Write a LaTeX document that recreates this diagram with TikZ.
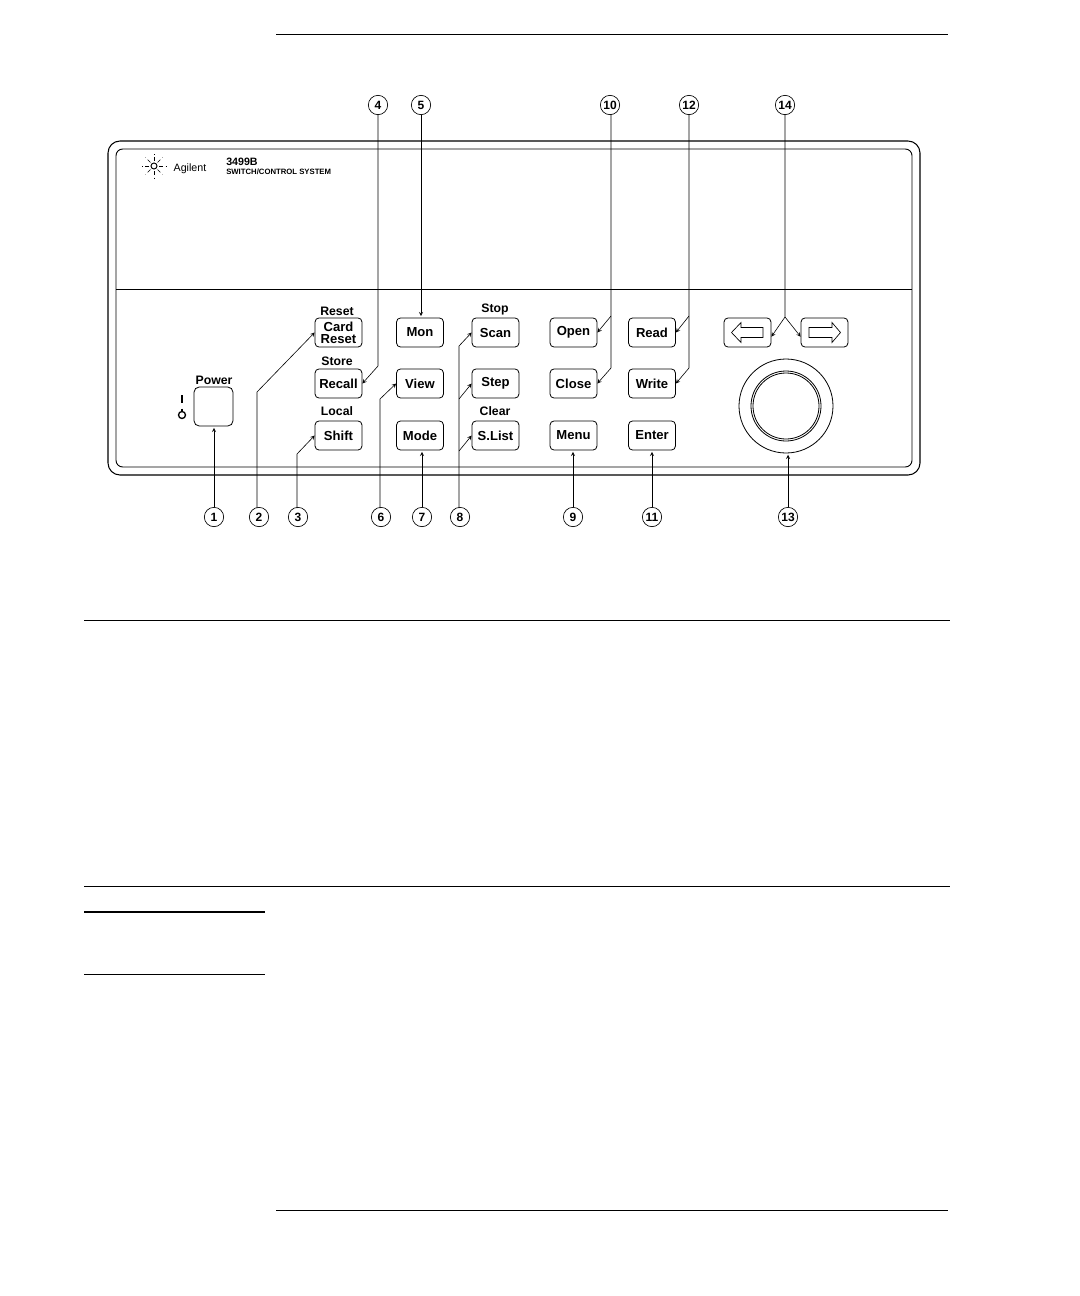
\documentclass[tikz,border=0pt]{standalone}
\usepackage{fontspec}
\setmainfont{Liberation Sans}
\usetikzlibrary{arrows}
\tikzstyle{button}=[draw,rounded corners=3pt,minimum width=35.2pt,minimum height=21.8pt,inner sep=0pt,align=center,font=\fontsize{9.8}{9.2}\selectfont\bfseries,line width=0.6pt]
\tikzstyle{callout}=[circle,draw,minimum size=14.5pt,inner sep=0pt,font=\fontsize{9}{9}\selectfont\bfseries,line width=0.5pt]
\tikzstyle{caption}=[inner sep=0pt,font=\fontsize{9.2}{9}\selectfont\bfseries]
\tikzstyle{leader} = [line width=0.45pt,->,>=stealth]
\tikzstyle{rule} = [draw,line width=0.6pt]
\begin{document}
\begin{tikzpicture}[x=0.75pt,y=-0.75pt]
    \useasboundingbox (0,0) rectangle (1080,1296);
    % page rules
    \draw[rule] (276,34) -- (948,34);
    \draw[rule] (84,620) -- (950,620);
    \draw[rule] (84,886) -- (950,886);
    \draw[line width=1.1pt] (84,912) -- (265,912);
    \draw[rule] (84,974) -- (265,974);
    \draw[rule] (276,1210) -- (948,1210);
    % front panel
    \draw[line width=0.8pt,rounded corners=9pt] (108,141) rectangle (920,475);
    \draw[line width=0.7pt,rounded corners=5pt] (116,149) rectangle (912,467);
    \draw[line width=0.7pt] (116,289) -- (912,289);
    % logo
    \foreach \ang in {0,45,...,315}
        \draw[line width=0.4pt,densely dashed] (154,166) ++(\ang:5) -- ++(\ang:7);
    \draw[line width=0.7pt] (154,166) circle (3);
    \node[inner sep=0pt,font=\fontsize{8}{8}\selectfont] (agilent) at (190,169) {Agilent};
    \node[inner sep=0pt,anchor=west,font=\fontsize{8}{8}\selectfont\bfseries] (model) at (226,161.5) {3499B};
    \node[inner sep=0pt,anchor=west,font=\fontsize{5.8}{5.8}\selectfont\bfseries] (system) at (226,172) {SWITCH/CONTROL SYSTEM};
    % First we draw the buttons
    \foreach \pos/\name/\txt in {{(338.5,332.5)/card/{Card\\Reset}}, {(338.5,383.5)/recall/Recall},
                            {(338.5,435.5)/shift/Shift}, {(420,332.5)/mon/Mon},
                            {(420,383.5)/view/View}, {(420,435.5)/mode/Mode},
                            {(495.5,332.5)/scan/Scan}, {(495.5,383.5)/stepkey/Step},
                            {(495.5,435.5)/slist/S.List}, {(573.5,332.5)/open/Open},
                            {(573.5,383.5)/close/Close}, {(573.5,435.5)/menu/Menu},
                            {(652,332.5)/read/Read}, {(652,383.5)/write/Write},
                            {(652,435.5)/enter/Enter}, {(747.5,332.5)/left/{}},
                            {(824.5,332.5)/right/{}}}
        \node[button] (\name) at \pos {\txt};
    \node[button,minimum width=29.3pt,minimum height=29.3pt,rounded corners=4pt] (power) at (213.5,406.5) {};
    % captions over the buttons
    \foreach \pos/\name in {{(337,311)/Reset}, {(337,361)/Store}, {(337,411)/Local},
                            {(495,309)/Stop}, {(495,411)/Clear}, {(214,380)/Power}}
        \node[caption] (cap\name) at \pos {\name};
    % power mark
    \draw[line width=1pt] (182,395) -- (182,403);
    \draw[line width=1pt] (182,415) circle (3.5);
    \draw[line width=1pt] (182,408.5) -- (182,412);
    % cursor keys
    \draw[line width=0.5pt] (731.5,332.5) -- (741,322.5) -- (741,327.5) -- (763,327.5) -- (763,337.5) -- (741,337.5) -- (741,342.5) -- cycle;
    \draw[line width=0.5pt] (840.5,332.5) -- (832,322.5) -- (832,327.5) -- (809,327.5) -- (809,337.5) -- (832,337.5) -- (832,342.5) -- cycle;
    % knob
    \node[circle,draw,line width=0.6pt,minimum size=70.5pt,inner sep=0pt] (knob) at (786,406) {};
    \node[circle,draw,line width=0.6pt,minimum size=52.5pt,inner sep=0pt] (knobrim) at (786,406) {};
    \node[circle,draw,line width=0.6pt,minimum size=49.5pt,inner sep=0pt] (knobcap) at (786,406) {};
    % callouts
    \foreach \pos/\name in {{(214,517)/1}, {(259,517)/2}, {(298,517)/3}, {(378,105)/4},
                            {(421,105)/5}, {(381,517)/6}, {(422,517)/7}, {(460,517)/8},
                            {(573,517)/9}, {(610,105)/10}, {(652,517)/11}, {(689,105)/12},
                            {(788,517)/13}, {(785,105)/14}}
        \node[callout] (c\name) at \pos {\name};
    % bends of the leaders
    \foreach \pos/\name in {{(257,392)/b2}, {(297,454)/b3}, {(378,366)/b4}, {(380,399)/b6},
                            {(459,346)/b8a}, {(459,399)/b8b}, {(459,451)/b8c},
                            {(611,316)/b10a}, {(611,368)/b10b}, {(689,316)/b12a},
                            {(689,368)/b12b}, {(785,317)/b14}, {(378,114)/t4},
                            {(459,508)/t8}, {(611,114)/t10}, {(689,114)/t12},
                            {(785,114)/t14}, {(257,508)/t2}, {(297,508)/t3}, {(380,508)/t6}}
        \node[coordinate] (\name) at \pos {};
    % straight leaders
    \foreach \source/\dest in {c1/power.south, c5/mon.north, c7/mode.south, c9/menu.south,
                            c11/enter.south, c13/knob.south}
        \draw[leader,shorten >=1pt] (\source) -- (\source |- \dest);
    % bent leaders
    \foreach \source/\bend/\dest in {t2/b2/card.west, t3/b3/shift.west, t4/b4/recall.east,
                            t6/b6/view.west, t8/b8a/scan.west, t10/b10b/close.east,
                            t12/b12b/write.east, t14/b14/left.-10}
        \draw[leader] (\source) -- (\bend) -- (\dest);
    % branches off the trunks
    \foreach \source/\dest in {b8b/stepkey.west, b8c/slist.west, b10a/open.east,
                            b12a/read.east, b14/right.190}
        \draw[leader] (\source) -- (\dest);
\end{tikzpicture}
\end{document}
